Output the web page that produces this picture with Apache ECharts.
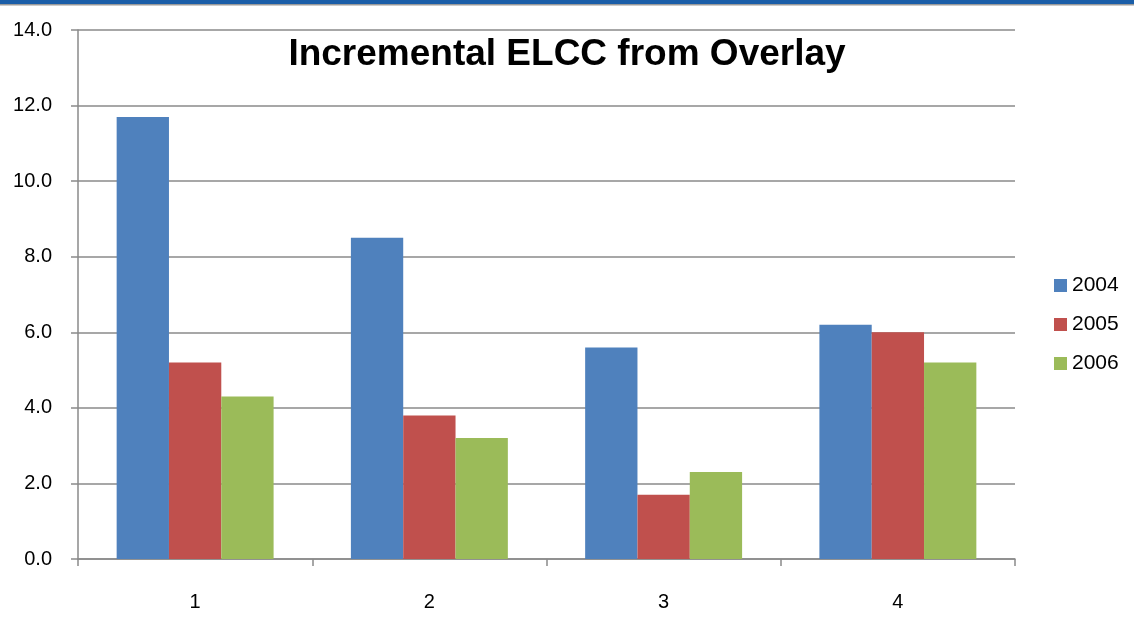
<!DOCTYPE html>
<html>
<head>
<meta charset="utf-8">
<script src="https://cdn.jsdelivr.net/npm/echarts@6/dist/echarts.min.js"></script>
<style>
html,body{margin:0;padding:0;background:#fff;}
#main{width:1134px;height:634px;}
</style>
</head>
<body>
<div id="main"></div>
<script>
//数据
var categories = ['1', '2', '3', '4'];
var seriesNames = ['2004', '2005', '2006'];
var v2004 = [11.7, 8.5, 5.6, 6.2];
var v2005 = [5.2, 3.8, 1.7, 6.0];
var v2006 = [4.3, 3.2, 2.3, 5.2];
var colors = ['#4f81bd', '#c0504d', '#9bbb59'];

var myChart = echarts.init(document.getElementById('main'));
var option = {
    animation: false,
    color: colors,
    title: {
        text: 'Incremental ELCC from Overlay',
        left: 562,
        textAlign: 'center',
        top: 30,
        textStyle: {
            fontFamily: 'Liberation Sans',
            fontWeight: 'bold',
            fontSize: 37,
            lineHeight: 40,
            color: '#000'
        }
    },
    graphic: [
        { type: 'rect', shape: { x: 0, y: 0, width: 1134, height: 4 }, style: { fill: '#1a5ea8' } },
        { type: 'rect', shape: { x: 0, y: 4, width: 1134, height: 1.5 }, style: { fill: '#9a9a9a' } }
    ],
    legend: {
        data: seriesNames,
        orient: 'vertical',
        left: 1049,
        top: 270,
        itemWidth: 13,
        itemHeight: 13,
        itemGap: 18,
        icon: 'rect',
        textStyle: { fontFamily: 'Liberation Sans', fontSize: 21, lineHeight: 20, color: '#000' }
    },
    grid: {
        left: 78,
        right: 119,
        top: 30,
        bottom: 75
    },
    xAxis: {
        type: 'category',
        data: categories,
        axisLine: { lineStyle: { color: '#8a8a8a', width: 1.5 } },
        axisTick: { show: true, length: 7, lineStyle: { color: '#8a8a8a', width: 1.5 } },
        axisLabel: { margin: 33, fontFamily: 'Liberation Sans', fontSize: 20, color: '#000' }
    },
    yAxis: {
        type: 'value',
        min: 0,
        max: 14,
        interval: 2,
        axisLine: { show: true, lineStyle: { color: '#8a8a8a', width: 1.5 } },
        axisTick: { show: true, length: 7, lineStyle: { color: '#8a8a8a', width: 1.5 } },
        axisLabel: {
            margin: 26,
            fontFamily: 'Liberation Sans',
            fontSize: 20,
            color: '#000',
            formatter: function (v) { return v.toFixed(1); }
        },
        splitLine: { lineStyle: { color: '#8a8a8a', width: 1.5 } }
    },
    series: [
        { name: '2004', type: 'bar', data: v2004, barGap: '0%', barCategoryGap: '33%' },
        { name: '2005', type: 'bar', data: v2005, barGap: '0%', barCategoryGap: '33%' },
        { name: '2006', type: 'bar', data: v2006, barGap: '0%', barCategoryGap: '33%' }
    ]
};
myChart.setOption(option);
</script>
</body>
</html>
